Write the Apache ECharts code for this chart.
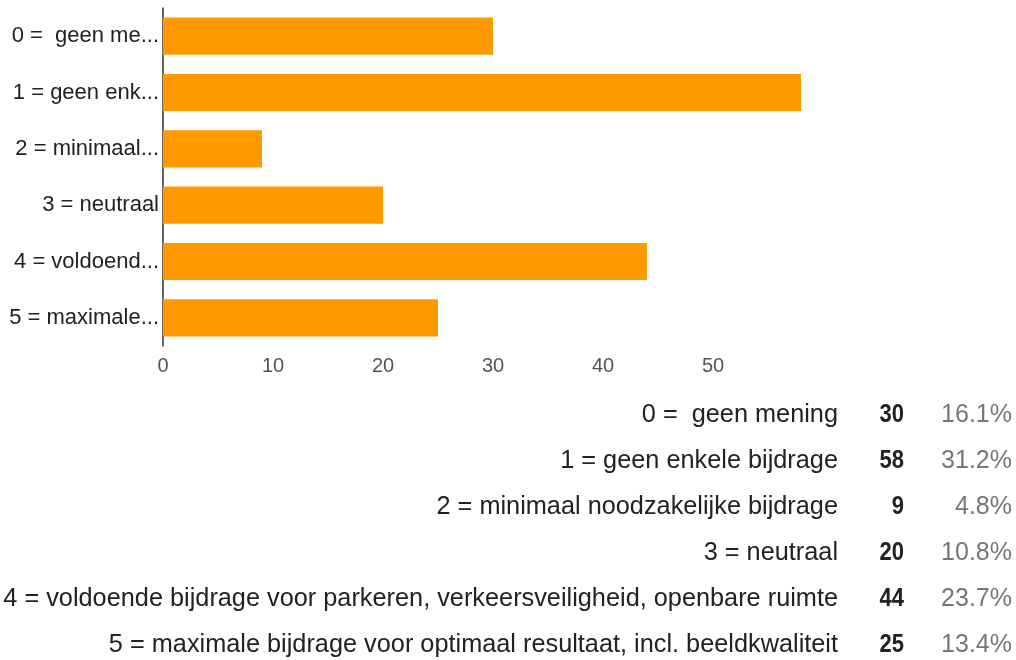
<!DOCTYPE html>
<html>
<head>
<meta charset="utf-8">
<script src="https://cdn.jsdelivr.net/npm/echarts@6/dist/echarts.min.js"></script>
<style>
  html, body { margin: 0; padding: 0; background: #fff; }
  #main { width: 1016px; height: 660px; }
</style>
</head>
<body>
<div id="main"></div>
<script>
// data
const categories = [
  '0 =  geen mening',
  '1 = geen enkele bijdrage',
  '2 = minimaal noodzakelijke bijdrage',
  '3 = neutraal',
  '4 = voldoende bijdrage voor parkeren, verkeersveiligheid, openbare ruimte',
  '5 = maximale bijdrage voor optimaal resultaat, incl. beeldkwaliteit'
]
const shortLabels = ['0 =  geen me...', '1 = geen enk...', '2 = minimaal...', '3 = neutraal', '4 = voldoend...', '5 = maximale...']
const counts = [30, 58, 9, 20, 44, 25]
const percents = ['16.1%', '31.2%', '4.8%', '10.8%', '23.7%', '13.4%']
const xTicks = [0, 10, 20, 30, 40, 50]

const FONT = '"Liberation Sans", Arial, sans-serif'
const chart = echarts.init(document.getElementById('main'))

// summary table below the chart
const rowTop = 415
const rowGap = 46
const table = []
categories.forEach((name, i) => {
  const y = rowTop + i * rowGap
  table.push({
    type: 'text', x: 838, y: y, scaleX: 1.012,
    style: { text: name, font: '25px ' + FONT, fill: '#222', align: 'right', verticalAlign: 'middle' }
  })
  table.push({
    type: 'text', x: 904, y: y, scaleX: 0.88,
    style: { text: String(counts[i]), font: 'bold 25px ' + FONT, fill: '#222', align: 'right', verticalAlign: 'middle' }
  })
  table.push({
    type: 'text', x: 1012, y: y,
    style: { text: percents[i], font: '25px ' + FONT, fill: '#777', align: 'right', verticalAlign: 'middle' }
  })
})

chart.setOption({
  animation: false,
  grid: { left: 163, top: 8, width: 660, height: 338 },
  xAxis: {
    type: 'value',
    min: 0,
    max: 60,
    interval: 10,
    axisLine: { show: false },
    axisTick: { show: false },
    splitLine: { show: false },
    axisLabel: {
      showMaxLabel: false,
      margin: 10,
      color: '#555',
      fontSize: 20,
      fontFamily: FONT,
      formatter: v => xTicks.includes(v) ? String(v) : ''
    }
  },
  yAxis: {
    type: 'category',
    inverse: true,
    data: categories,
    axisLine: { show: true, lineStyle: { color: '#333', width: 1.5 } },
    axisTick: { show: false },
    axisLabel: {
      margin: 4,
      color: '#222',
      fontSize: 22,
      fontFamily: FONT,
      formatter: (v, i) => shortLabels[i]
    }
  },
  series: [{
    type: 'bar',
    data: counts,
    barWidth: '66%',
    itemStyle: { color: '#ff9900' }
  }],
  graphic: table
})
</script>
</body>
</html>
